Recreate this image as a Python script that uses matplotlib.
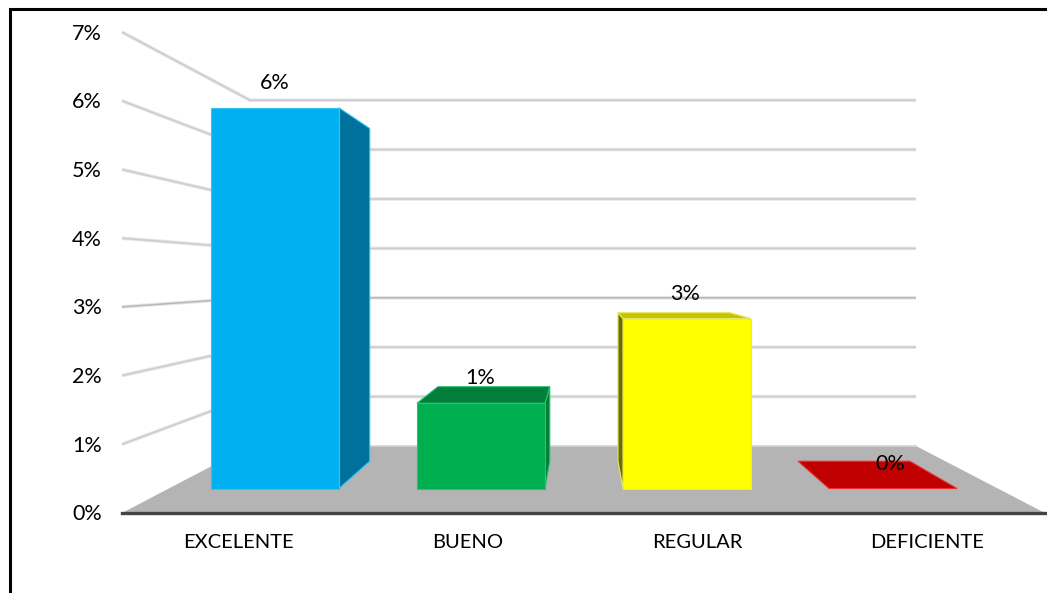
import matplotlib
matplotlib.use('Agg')
import matplotlib.pyplot as plt
from matplotlib.patches import Polygon

# datos
categorias = ['EXCELENTE', 'BUENO', 'REGULAR', 'DEFICIENTE']
valores = [6.16, 1.38, 2.75, 0.0]
ticks = [0, 1, 2, 3, 4, 5, 6, 7]
frentes = ['#00B0F0', '#00B050', '#FFFF00', '#C00000']
lados = ['#00709C', '#007E3A', '#6E6E00', '#C00000']
techos = ['#009AD2', '#007E3A', '#C4C400', '#C00000']
bordes = ['#33C4F5', '#2CC070', '#E8E860', '#F03030']

plt.rcParams['font.family'] = ['Lato', 'DejaVu Sans']

fig = plt.figure(figsize=(10.47, 5.93), dpi=100)
ax = fig.add_axes([0, 0, 1, 1])
ax.set_xlim(0, 1047)
ax.set_ylim(593, 0)
ax.axis('off')

# geometria de la "camara"
px_frente = 68.7      # px por unidad en el plano frontal
px_fondo = 49.4       # px por unidad en la pared
px_barra = 61.8       # px por unidad en la cara de las barras
y0_frente = 513
y0_fondo = 446
y0_barra = 488.5
vp = (583, 272)
k = 0.874
ancho = 128
x_ini = 211
paso = 206


def atras(x, y):
    return (vp[0] + (x - vp[0]) * k, vp[1] + (y - vp[1]) * k)


def linea_doble(xs, ys, oscuro='#cccccc'):
    ax.plot(xs, ys, color='#e6e6e6', lw=2.6, solid_capstyle='butt', zorder=1)
    ax.plot(xs, ys, color=oscuro, lw=1.1, solid_capstyle='butt', zorder=1)


# paredes con las lineas de la escala
for t in ticks:
    y_f = y0_frente - t * px_frente
    y_b = y0_fondo - t * px_fondo
    if t > 0:
        linea_doble([122, 250, 916], [y_f, y_b, y_b], '#b8b8b8' if t == 3 else '#cccccc')
    ax.text(102, y_f + 1.5, '{}%'.format(t), ha='right', va='center', fontsize=15.5, color='black', zorder=6)

# piso
ax.add_patch(Polygon([(122, y0_frente), (1045, y0_frente), (916, y0_fondo), (250, y0_fondo)],
                     closed=True, fc='#B4B4B4', ec='none', zorder=2))
ax.plot([250, 916], [y0_fondo, y0_fondo], color='#d4d4d4', lw=1.2, zorder=2)
ax.plot([122, 1045], [y0_frente, y0_frente], color='#444444', lw=2.4, zorder=3)

# barras
for i, v in enumerate(valores):
    x1 = x_ini + i * paso
    x2 = x1 + ancho
    y_base = y0_barra
    y_top = y_base - v * px_barra
    a, b, c, d = (x1, y_top), (x2, y_top), (x2, y_base), (x1, y_base)
    a2, b2, c2, d2 = atras(*a), atras(*b), atras(*c), atras(*d)
    e = bordes[i]
    if v > 0:
        # cara lateral visible segun el lado del punto de fuga
        if x2 < vp[0]:
            ax.add_patch(Polygon([b, b2, c2, c], fc=lados[i], ec=e, lw=0.8, zorder=4))
        elif x1 > vp[0]:
            ax.add_patch(Polygon([a, a2, d2, d], fc=lados[i], ec=e, lw=0.8, zorder=4))
        if y_top > vp[1]:
            ax.add_patch(Polygon([a, b, b2, a2], fc=techos[i], ec=e, lw=0.8, zorder=4))
        ax.add_patch(Polygon([a, b, c, d], fc=frentes[i], ec=e, lw=0.8, zorder=5))
    else:
        ax.add_patch(Polygon([a, b, b2, a2], fc=frentes[i], ec=e, lw=0.8, zorder=5))
    ax.text(x_ini + ancho / 2 + i * 205, y_top - 25, '{:.0f}%'.format(v), ha='center', va='center',
            fontsize=15.5, color='black', zorder=7)
    ax.text(238.5 + i * 229.5, 543, categorias[i], ha='center', va='center',
            fontsize=14.5, color='black', zorder=6)

# marco de la imagen
ax.plot([10, 10, 1047], [593, 8.5, 8.5], color='black', lw=2.2, solid_joinstyle='miter', zorder=8)

fig.savefig('out.png', dpi=100)
